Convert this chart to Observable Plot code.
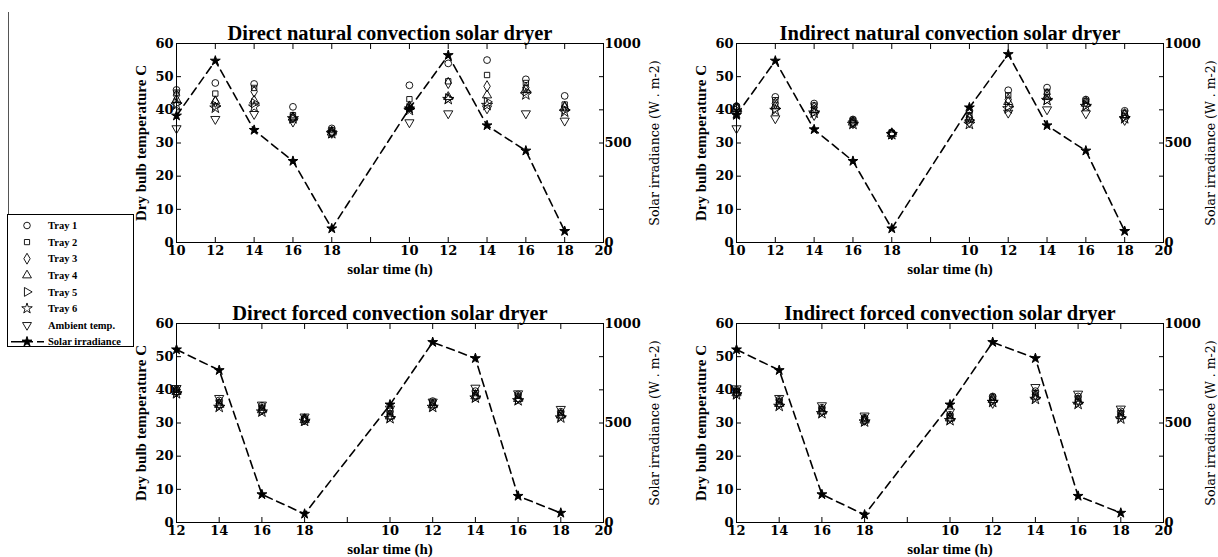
<!DOCTYPE html>
<html>
<head>
<meta charset="utf-8">
<script src="https://cdn.jsdelivr.net/npm/d3@7"></script>
<script src="https://cdn.jsdelivr.net/npm/@observablehq/plot@0.6"></script>
<style>
  body { margin: 0; background: #fff; }
  #page { position: relative; width: 1218px; height: 557px; overflow: hidden; background: #fff; font-family: "Liberation Serif", serif; }
  .panel { position: absolute; }
  #legend { position: absolute; left: 7px; top: 214px; width: 127px; height: 133px; box-sizing: border-box; border: 1px solid #000; }
  #vline { position: absolute; left: 8px; top: 12px; width: 0; height: 202px; border-left: 1px solid #555; }
</style>
</head>
<body>
<div id="page">
  <div id="vline"></div>
  <div id="p1" class="panel" style="left:100px; top:0px"></div>
  <div id="p2" class="panel" style="left:680px; top:0px"></div>
  <div id="p3" class="panel" style="left:100px; top:280px"></div>
  <div id="p4" class="panel" style="left:680px; top:280px"></div>
  <div id="legend"></div>
</div>
<script>
// ---------- data ----------
const seriesNames = ["Tray 1", "Tray 2", "Tray 3", "Tray 4", "Tray 5", "Tray 6", "Ambient temp."];
const irradianceName = "Solar irradiance";

// natural convection panels: 12 tick positions, data at positions 0-4 and 6-10
const naturalTickLabels = ["10", "12", "14", "16", "18", "", "10", "12", "14", "16", "18", "20"];
const naturalPositions = [0, 1, 2, 3, 4, 6, 7, 8, 9, 10];
// forced convection panels: 11 tick positions, data at positions 0-3 and 5-9
const forcedTickLabels = ["12", "14", "16", "18", "", "10", "12", "14", "16", "18", "20"];
const forcedPositions = [0, 1, 2, 3, 5, 6, 7, 8, 9];

const tempTicks = [0, 10, 20, 30, 40, 50, 60];
const irrTicks = [0, 500, 1000];

// Direct natural convection: Tray1..Tray6, Ambient
const directNaturalTemps = [
  [46.0, 48.1, 47.8, 40.9, 34.4, 47.4, 54.0, 55.0, 49.2, 44.2],
  [45.2, 44.9, 46.6, 38.4, 33.9, 43.2, 48.6, 50.5, 48.1, 41.6],
  [44.4, 42.4, 45.5, 37.7, 33.4, 41.0, 48.1, 47.1, 46.7, 40.9],
  [43.0, 42.6, 42.8, 37.7, 33.2, 40.9, 43.9, 44.4, 46.1, 40.7],
  [42.0, 41.2, 42.0, 37.4, 33.0, 40.5, 43.5, 42.4, 45.5, 40.0],
  [41.5, 40.6, 40.9, 37.4, 32.9, 39.9, 43.2, 41.4, 44.6, 39.4],
  [34.4, 37.2, 38.7, 36.4, 33.0, 36.2, 38.9, 40.4, 38.9, 36.7]
];
const directNaturalIrr = [637, 913, 565, 409, 70, 673, 941, 588, 461, 57];

// Indirect natural convection
const indirectNaturalTemps = [
  [41.1, 43.9, 41.9, 37.1, 33.1, 39.7, 45.9, 46.7, 43.1, 39.7],
  [40.9, 42.9, 41.3, 36.8, 33.0, 38.4, 44.4, 45.4, 42.7, 39.1],
  [40.7, 41.9, 40.7, 36.4, 32.9, 37.7, 43.1, 44.7, 42.4, 38.7],
  [40.4, 41.1, 39.9, 36.2, 32.8, 37.4, 42.4, 43.9, 41.9, 38.4],
  [39.9, 40.4, 39.4, 36.0, 32.7, 36.9, 41.1, 43.1, 41.4, 37.9],
  [38.9, 39.9, 39.1, 35.7, 32.6, 35.7, 40.4, 42.9, 41.1, 37.4],
  [34.4, 37.4, 38.4, 35.9, 32.5, 36.2, 39.1, 40.1, 38.9, 36.9]
];
const indirectNaturalIrr = [640, 913, 568, 409, 70, 678, 946, 588, 461, 57];

// Direct forced convection
const directForcedTemps = [
  [40.2, 36.8, 35.2, 31.6, 33.5, 36.6, 39.6, 38.6, 33.4],
  [40.0, 36.2, 34.6, 31.3, 32.9, 36.1, 39.0, 38.2, 33.0],
  [39.6, 35.8, 34.2, 31.1, 32.4, 35.6, 38.4, 37.6, 32.6],
  [39.4, 35.5, 33.9, 30.9, 32.0, 35.4, 38.1, 37.3, 32.3],
  [39.1, 35.2, 33.6, 30.7, 31.7, 35.0, 37.8, 37.0, 32.0],
  [38.9, 34.8, 33.4, 30.6, 31.4, 34.8, 37.6, 36.8, 31.6],
  [40.5, 37.5, 35.5, 31.9, 34.3, 36.4, 40.6, 38.9, 34.2]
];
const directForcedIrr = [869, 765, 141, 43, 592, 906, 825, 133, 48];

// Indirect forced convection
const indirectForcedTemps = [
  [40.0, 37.0, 34.6, 31.6, 32.5, 38.0, 39.6, 38.0, 33.5],
  [39.6, 36.5, 34.2, 31.3, 32.1, 37.7, 39.0, 37.4, 33.0],
  [39.3, 36.1, 33.8, 31.0, 31.7, 37.3, 38.5, 36.9, 32.5],
  [39.0, 35.8, 33.5, 30.8, 31.4, 37.0, 38.0, 36.5, 32.1],
  [38.8, 35.5, 33.2, 30.6, 31.1, 36.6, 37.6, 36.1, 31.7],
  [38.6, 35.1, 32.9, 30.4, 30.8, 36.3, 37.2, 35.7, 31.3],
  [40.4, 37.5, 35.3, 32.2, 33.4, 36.0, 40.8, 38.8, 34.3]
];
const indirectForcedIrr = [869, 765, 141, 39, 592, 906, 825, 133, 48];

// ---------- styles ----------
const symbolStyles = [
  {symbol: "circle", rotate: 0},
  {symbol: "square2", rotate: 0},
  {symbol: "diamond", rotate: 0},
  {symbol: "triangle", rotate: 0},
  {symbol: "triangle", rotate: 90},
  {symbol: "star", rotate: 0},
  {symbol: "triangle", rotate: 180}
];
const FONT = "Liberation Serif";
const TICKFONT = "DejaVu Serif";
const TEMP_MAX = 60, IRR_MAX = 1000;

function panel(el, {tickLabels, positions, temps, irr, title, left, right, rightLabelDx}) {
  const n = tickLabels.length;
  const irrRows = irr.map((w, k) => ({x: positions[k], w}));
  const irrY = d => d.w * TEMP_MAX / IRR_MAX;
  const dotMarks = temps.map((vals, s) => Plot.dot(vals.map((v, k) => ({x: positions[k], v})), {
    x: "x", y: "v", symbol: symbolStyles[s].symbol, rotate: symbolStyles[s].rotate,
    r: s === 5 ? 3.5 : 3.4, stroke: "black", strokeWidth: 0.9, fill: "none"
  }));
  const tickText = {fontFamily: TICKFONT, fontSize: 13, fontWeight: "bold"};
  const chart = Plot.plot({
    width: left + 427 + right,
    height: 280,
    marginLeft: left, marginRight: right, marginTop: 43, marginBottom: 38,
    x: {domain: [0, n - 1], label: null},
    y: {domain: [0, TEMP_MAX], label: null},
    style: {fontFamily: FONT, fontWeight: "bold", fontSize: "13px", background: "transparent", overflow: "visible", color: "black"},
    marks: [
      Plot.frame({stroke: "black", strokeWidth: 1}),
      Plot.axisY({anchor: "left", ticks: tempTicks, tickSize: -5, tickPadding: 8, label: null, ...tickText}),
      Plot.axisY({anchor: "right", ticks: tempTicks, tickSize: -5, tickFormat: () => "", label: null}),
      Plot.axisY({anchor: "right", ticks: irrTicks.map(w => w * TEMP_MAX / IRR_MAX), tickSize: 0, tickPadding: 1,
                  tickFormat: d => String(Math.round(d * IRR_MAX / TEMP_MAX)), label: null, ...tickText}),
      Plot.axisX({anchor: "bottom", ticks: d3.range(n), tickSize: -5, tickPadding: 8, tickFormat: i => tickLabels[i], label: null, ...tickText}),
      Plot.axisX({anchor: "top", ticks: d3.range(n), tickSize: -5, tickFormat: () => "", label: null}),
      ...dotMarks,
      Plot.line(irrRows, {x: "x", y: irrY, stroke: "black", strokeWidth: 1.6, strokeDasharray: "8,5"}),
      Plot.dot(irrRows, {x: "x", y: irrY, symbol: "star", r: 3.1, fill: "black", stroke: "black", strokeWidth: 1}),
      Plot.text([title], {text: d => d, frameAnchor: "top", dy: -18, fontSize: 20.5, fontWeight: "bold"}),
      Plot.text(["solar time (h)"], {text: d => d, frameAnchor: "bottom", dy: 31, fontSize: 15, fontWeight: "bold"}),
      Plot.text(["Dry bulb temperature C"], {text: d => d, frameAnchor: "left", textAnchor: "middle", dx: -35, rotate: -90, fontSize: 15, fontWeight: "bold"}),
      Plot.text(["Solar irradiance (W . m-2)"], {text: d => d, frameAnchor: "right", textAnchor: "middle", dx: rightLabelDx, rotate: -90,
        fontFamily: TICKFONT, fontSize: 12.5, fontWeight: "normal", fill: "black"})
    ]
  });
  document.getElementById(el).appendChild(chart);
}

panel("p1", {tickLabels: naturalTickLabels, positions: naturalPositions, temps: directNaturalTemps, irr: directNaturalIrr,
  title: "Direct natural convection solar dryer", left: 76, right: 97, rightLabelDx: 51});
panel("p2", {tickLabels: naturalTickLabels, positions: naturalPositions, temps: indirectNaturalTemps, irr: indirectNaturalIrr,
  title: "Indirect natural convection solar dryer", left: 56, right: 55, rightLabelDx: 47});
panel("p3", {tickLabels: forcedTickLabels, positions: forcedPositions, temps: directForcedTemps, irr: directForcedIrr,
  title: "Direct forced convection solar dryer", left: 76, right: 97, rightLabelDx: 51});
panel("p4", {tickLabels: forcedTickLabels, positions: forcedPositions, temps: indirectForcedTemps, irr: indirectForcedIrr,
  title: "Indirect forced convection solar dryer", left: 56, right: 55, rightLabelDx: 47});

// ---------- legend ----------
(function legend() {
  const svg = d3.select("#legend").append("svg").attr("width", 125).attr("height", 131)
    .style("font-family", FONT).style("font-weight", "bold").style("font-size", "10.5px");
  const symMap = {circle: d3.symbolCircle, square2: d3.symbolSquare2, diamond: d3.symbolDiamond, triangle: d3.symbolTriangle, star: d3.symbolStar};
  const labels = [...seriesNames, irradianceName];
  labels.forEach((name, i) => {
    const y = 10.5 + i * 16.6;
    if (i < seriesNames.length) {
      const st = symbolStyles[i];
      svg.append("path")
        .attr("d", d3.symbol(symMap[st.symbol], Math.PI * 3.3 * 3.3)())
        .attr("transform", `translate(19,${y}) rotate(${st.rotate})`)
        .attr("fill", "none").attr("stroke", "black").attr("stroke-width", 0.9);
    } else {
      svg.append("line").attr("x1", 3).attr("x2", 36).attr("y1", y).attr("y2", y)
        .attr("stroke", "black").attr("stroke-width", 1.6).attr("stroke-dasharray", "14,4,4,4");
      svg.append("path").attr("d", d3.symbol(d3.symbolStar, Math.PI * 3.1 * 3.1)())
        .attr("transform", `translate(19,${y})`).attr("fill", "black").attr("stroke", "black");
    }
    svg.append("text").attr("x", 40).attr("y", y).attr("dy", "0.35em").text(name);
  });
})();
</script>
</body>
</html>
